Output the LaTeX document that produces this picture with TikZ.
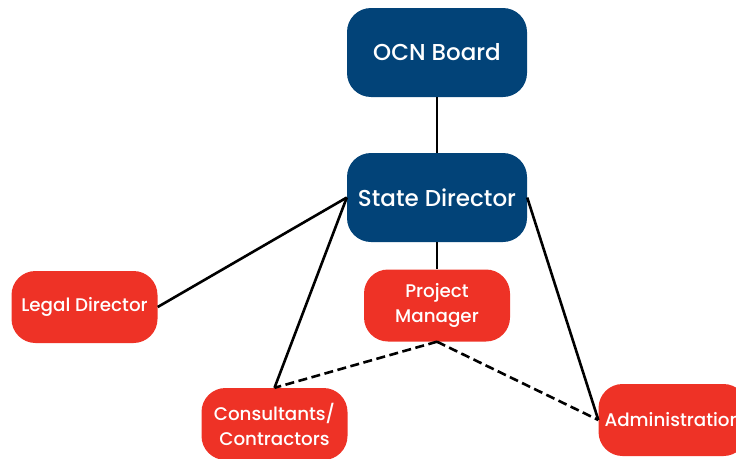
\documentclass[tikz,border=0pt]{standalone}
\usepackage{fontspec}
\setmainfont{Poppins Medium}
\usetikzlibrary{calc}
\definecolor{ocnblue}{RGB}{2,67,120}
\definecolor{ocnred}{RGB}{238,50,38}
\tikzset{
  board/.style={fill=ocnblue,text=white,rounded corners=24pt,minimum width=180pt,minimum height=89pt,font=\fontsize{23}{25}\selectfont},
  staff/.style={fill=ocnred,text=white,rounded corners=24pt,minimum width=146pt,minimum height=72pt,align=center,font=\fontsize{18.3}{25}\selectfont},
  link/.style={line width=2.6pt,black},
  dotlink/.style={link,dash pattern=on 9pt off 4.5pt}
}
\begin{document}
\begin{tikzpicture}[x=1pt,y=-1pt]
                      \useasboundingbox(0,0)rectangle(736,458);
                      \node[board](ocn)at(437,52.5){OCN Board};
                      \node[board](state)at(437,197.5){State Director};
                      \node[staff](legal)at(84.5,307){Legal Director};
                      \node[staff](pm)at(437,305.5){Project\\Manager};
                      \node[staff](cons)at(274.5,424){Consultants/\\Contractors};
                      \node[staff,inner xsep=6pt](admin)at(673,420){Administration};
                      \draw[link](ocn)--(state);
                      \draw[link](state)--(pm);
                      \draw[link](legal.east)--(state.west);
                      \draw[link](cons.north)--(state.west);
                      \draw[link](admin.west)--(state.east);
                      \draw[dotlink](pm.south)--(cons.north);
                      \draw[dotlink](pm.south)--(admin.west);
                  \end{tikzpicture}
\end{document}
